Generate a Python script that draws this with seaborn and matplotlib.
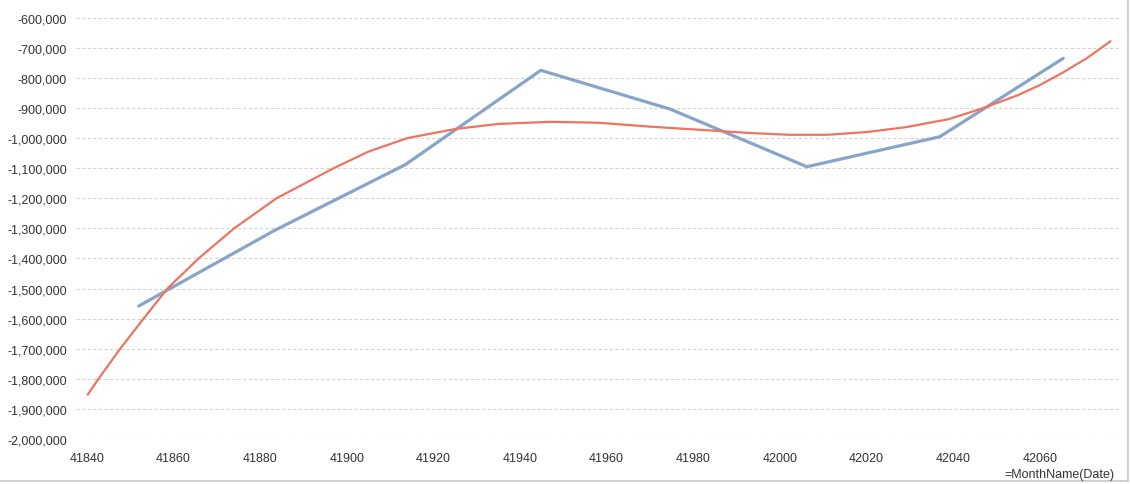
import matplotlib
matplotlib.use("Agg")
import matplotlib.pyplot as plt
import matplotlib.ticker as mticker
from matplotlib.lines import Line2D
import seaborn as sns
import pandas as pd

# Blue series (monthly values, x = date serial)
month_x = [41852.0, 41883.5, 41913.5, 41944.8, 41974.6, 42006.2, 42036.9, 42065.4]
month_y = [-1558000, -1305600, -1088500, -774800, -903400, -1095200, -995500, -735000]

# Red trend curve
trend_x = [41840.2, 41842.7, 41847.7, 41853.1, 41858.6, 41865.8, 41874.0, 41883.8,
           41897.0, 41905.0, 41914.0, 41925.0, 41935.0, 41947.0, 41958.0, 41970.0,
           41982.0, 41993.0, 42002.0, 42011.0, 42020.0, 42029.0, 42039.0, 42047.0,
           42055.0, 42060.0, 42065.4, 42071.0, 42076.3]
trend_y = [-1852900, -1800000, -1700000, -1600000, -1500000, -1400000, -1300000, -1200000,
           -1100000, -1045000, -1000000, -970000, -953000, -946000, -949000, -962000,
           -973000, -983000, -989000, -989000, -980000, -964000, -937000, -900000,
           -857000, -824000, -781500, -733000, -678400]

x_ticks = [41840, 41860, 41880, 41900, 41920, 41940, 41960, 41980, 42000, 42020, 42040, 42060]
y_ticks = list(range(-2000000, -599999, 100000))
x_label = "=MonthName(Date)"

sns.set_theme(style="white")
plt.rcParams["font.family"] = ["Liberation Sans", "DejaVu Sans"]

fig = plt.figure(figsize=(11.3, 4.85), dpi=100)
ax = fig.add_axes([76 / 1130, 1 - 440 / 485, (1120 - 76) / 1130, (440 - 18.7) / 485])

df_m = pd.DataFrame({"x": month_x, "y": month_y})
df_t = pd.DataFrame({"x": trend_x, "y": trend_y})

sns.lineplot(data=df_m, x="x", y="y", ax=ax, color="#87A5C8", linewidth=2.3,
             estimator=None, sort=False, zorder=3)
sns.lineplot(data=df_t, x="x", y="y", ax=ax, color="#EE7462", linewidth=1.6,
             estimator=None, sort=False, zorder=4)

ax.set_xlim(41837.5, 42078.5)
ax.set_ylim(-2000000, -600000)
ax.set_xticks(x_ticks)
ax.set_yticks(y_ticks)
ax.xaxis.set_major_formatter(mticker.FuncFormatter(lambda v, p: f"{int(round(v))}"))
ax.yaxis.set_major_formatter(mticker.FuncFormatter(lambda v, p: f"{int(round(v)):,}"))
ax.tick_params(axis="both", length=0, labelsize=9, colors="#333333")
ax.tick_params(axis="x", pad=9.5)
ax.tick_params(axis="y", pad=6.5)
ax.set_xlabel("")
ax.set_ylabel("")
for s in ax.spines.values():
    s.set_visible(False)
ax.grid(axis="y", color="#d4d4d4", linestyle=(0, (3, 2)), linewidth=0.8)
ax.grid(axis="x", visible=False)
ax.set_axisbelow(True)

fig.text(1114 / 1130, 1 - 475 / 485, x_label, ha="right", va="center",
         fontsize=9, color="#333333")

# light border at right and bottom
fig.add_artist(Line2D([0, 1128 / 1130], [1 - 481.5 / 485, 1 - 481.5 / 485],
                      transform=fig.transFigure, color="#c8c8c8", linewidth=1.2))
fig.add_artist(Line2D([1128 / 1130, 1128 / 1130], [1 - 481.5 / 485, 1],
                      transform=fig.transFigure, color="#c8c8c8", linewidth=1.2))

fig.savefig("out.png", dpi=100)
